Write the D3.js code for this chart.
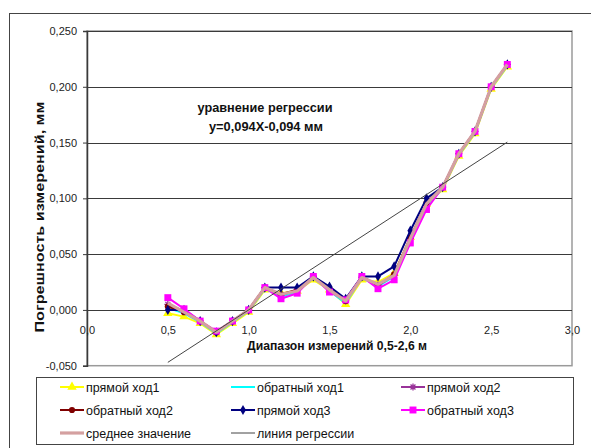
<!DOCTYPE html>
<html>
<head>
<meta charset="utf-8">
<script src="https://cdn.jsdelivr.net/npm/d3@7"></script>
<style>
  html, body { margin: 0; padding: 0; background: #fff; }
  svg { display: block; font-family: "Liberation Sans", Arial, sans-serif; }
</style>
</head>
<body>
<svg id="chart" width="591" height="448"></svg>
<script>
// Measurement points, m
const distances = [0.5, 0.6, 0.7, 0.8, 0.9, 1.0, 1.1, 1.2, 1.3, 1.4, 1.5, 1.6, 1.7, 1.8, 1.9, 2.0, 2.1, 2.2, 2.3, 2.4, 2.5, 2.6];

// Errors per run, mm
const forward1  = [-0.003, -0.006, -0.012, -0.022, -0.012, -0.002, 0.018, 0.015, 0.017, 0.027, 0.018, 0.005, 0.027, 0.025, 0.033, 0.065, 0.095, 0.108, 0.138, 0.158, 0.198, 0.218];
const backward1 = [0.002, -0.003, -0.011, -0.021, -0.011, -0.001, 0.019, 0.012, 0.016, 0.029, 0.017, 0.006, 0.029, 0.021, 0.030, 0.062, 0.093, 0.109, 0.139, 0.159, 0.199, 0.219];
const forward2  = [0.005, -0.001, -0.010, -0.020, -0.010, 0.000, 0.020, 0.013, 0.018, 0.030, 0.019, 0.008, 0.029, 0.022, 0.031, 0.064, 0.095, 0.110, 0.140, 0.160, 0.200, 0.220];
const backward2 = [0.003, -0.002, -0.010, -0.020, -0.010, 0.000, 0.020, 0.014, 0.018, 0.030, 0.019, 0.008, 0.030, 0.022, 0.032, 0.065, 0.096, 0.110, 0.140, 0.160, 0.200, 0.220];
const forward3  = [0.000, 0.000, -0.010, -0.020, -0.010, 0.000, 0.020, 0.020, 0.020, 0.030, 0.021, 0.010, 0.030, 0.030, 0.039, 0.071, 0.100, 0.110, 0.140, 0.160, 0.200, 0.220];
const backward3 = [0.011, 0.001, -0.010, -0.019, -0.010, 0.000, 0.020, 0.010, 0.015, 0.030, 0.016, 0.009, 0.030, 0.019, 0.027, 0.060, 0.090, 0.110, 0.140, 0.160, 0.200, 0.220];
const meanValue = [0.006, -0.002, -0.010, -0.020, -0.010, 0.000, 0.020, 0.014, 0.017, 0.029, 0.018, 0.008, 0.029, 0.023, 0.031, 0.064, 0.095, 0.110, 0.140, 0.160, 0.200, 0.220];

// Regression y = 0.094x - 0.094, drawn over the measured range
const regSlope = 0.094;
const regIntercept = -0.094;
const regRange = [0.5, 2.6];

// Axis ticks
const xTicks = [0, 0.5, 1.0, 1.5, 2.0, 2.5, 3.0];
const yTicks = [-0.05, 0, 0.05, 0.1, 0.15, 0.2, 0.25];

// Series labels
const seriesNames = ["прямой ход1", "обратный ход1", "прямой ход2", "обратный ход2", "прямой ход3", "обратный ход3", "среднее значение", "линия регрессии"];

const svg = d3.select("#chart");
const ru = d3.formatLocale({ decimal: ",", thousands: " ", grouping: [3], currency: ["", " ₽"], minus: "-" });
const fmtY = ru.format(".3f");
const fmtX = ru.format(".1f");

const x = d3.scaleLinear().domain([0, 3]).range([87, 572]);
const y = d3.scaleLinear().domain([-0.05, 0.25]).range([365.7, 31]);

// chart frame
svg.append("rect").attr("x", 9.5).attr("y", 13.5).attr("width", 600).attr("height", 460)
  .attr("fill", "#fff").attr("stroke", "#444").attr("stroke-width", 1);

// plot area border
svg.append("rect").attr("x", x(0)).attr("y", y(0.25)).attr("width", x(3) - x(0)).attr("height", y(-0.05) - y(0.25))
  .attr("fill", "none").attr("stroke", "#9a9a9a").attr("stroke-width", 1.5);

// horizontal gridlines
svg.append("g").selectAll("line").data(yTicks.filter(d => d > -0.05)).join("line")
  .attr("x1", x(0)).attr("x2", x(3))
  .attr("y1", d => Math.round(y(d)) + 0.5).attr("y2", d => Math.round(y(d)) + 0.5)
  .attr("stroke", "#3a3a3a").attr("stroke-width", 1.2);

// y axis
const yAxis = svg.append("g").attr("transform", `translate(${x(0)},0)`)
  .call(d3.axisLeft(y).tickValues(yTicks).tickFormat(fmtY).tickSize(4).tickPadding(6));
yAxis.select(".domain").attr("stroke", "#3a3a3a").attr("stroke-width", 1.5);
yAxis.selectAll(".tick line").attr("stroke", "#3a3a3a");
yAxis.selectAll("text").attr("font-size", 11).attr("fill", "#222").style("font-family", "Liberation Sans, Arial, sans-serif");

// x axis labels, hanging under the zero line
const xAxis = svg.append("g").attr("transform", `translate(0,${y(0)})`)
  .call(d3.axisBottom(x).tickValues(xTicks).tickFormat(fmtX).tickSize(0).tickPadding(16));
xAxis.select(".domain").remove();
xAxis.selectAll("text").attr("font-size", 11).attr("fill", "#222").style("font-family", "Liberation Sans, Arial, sans-serif");

// axis titles
svg.append("text").attr("transform", "translate(44,217) rotate(-90)")
  .attr("text-anchor", "middle").attr("font-size", 13).attr("font-weight", "bold").attr("fill", "#111")
  .attr("textLength", 231).attr("lengthAdjust", "spacingAndGlyphs")
  .text("Погрешность измерений, мм");
svg.append("text").attr("x", 337).attr("y", 350)
  .attr("text-anchor", "middle").attr("font-size", 13).attr("font-weight", "bold").attr("fill", "#111")
  .attr("textLength", 180).attr("lengthAdjust", "spacingAndGlyphs")
  .text("Диапазон измерений 0,5-2,6 м");

// regression equation note
svg.append("text").attr("x", 265).attr("y", 112)
  .attr("text-anchor", "middle").attr("font-size", 13).attr("font-weight", "bold").attr("fill", "#111")
  .attr("textLength", 135).attr("lengthAdjust", "spacingAndGlyphs")
  .text("уравнение регрессии");
svg.append("text").attr("x", 266).attr("y", 131)
  .attr("text-anchor", "middle").attr("font-size", 13).attr("font-weight", "bold").attr("fill", "#111")
  .attr("textLength", 114).attr("lengthAdjust", "spacingAndGlyphs")
  .text("у=0,094Х-0,094 мм");

// marker shapes
const asteriskPath = r => `M${-r},0L${r},0M0,${-r}L0,${r}M${-r * 0.7},${-r * 0.7}L${r * 0.7},${r * 0.7}M${-r * 0.7},${r * 0.7}L${r * 0.7},${-r * 0.7}`;
const markers = {
  triangle: d3.symbol(d3.symbolTriangle, 38)(),
  circle: d3.symbol(d3.symbolCircle, 30)(),
  diamond: d3.symbol(d3.symbolDiamond, 30)(),
  square: d3.symbol(d3.symbolSquare, 48)(),
  asterisk: asteriskPath(3.5)
};

const series = [
  { name: seriesNames[0], values: forward1,  color: "#ffff00", width: 2,   marker: "triangle" },
  { name: seriesNames[1], values: backward1, color: "#00ffff", width: 2,   marker: null },
  { name: seriesNames[2], values: forward2,  color: "#993399", width: 2,   marker: "asterisk" },
  { name: seriesNames[3], values: backward2, color: "#800000", width: 2,   marker: "circle" },
  { name: seriesNames[4], values: forward3,  color: "#000080", width: 2,   marker: "diamond" },
  { name: seriesNames[5], values: backward3, color: "#ff00ff", width: 2,   marker: "square" },
  { name: seriesNames[6], values: meanValue, color: "#d4a0a0", width: 3.2, marker: null }
];

const line = d3.line().x(d => x(d[0])).y(d => y(d[1]));

function drawMarker(g, type, color, cx, cy) {
  if (!type) return;
  const p = g.append("path").attr("d", markers[type]).attr("transform", `translate(${cx},${cy})`);
  if (type === "asterisk") p.attr("fill", "none").attr("stroke", color).attr("stroke-width", 1.3);
  else p.attr("fill", color).attr("stroke", "none");
}

const plot = svg.append("g");
series.forEach(s => {
  const pts = distances.map((d, i) => [d, s.values[i]]);
  const g = plot.append("g");
  g.append("path").attr("d", line(pts)).attr("fill", "none")
    .attr("stroke", s.color).attr("stroke-width", s.width).attr("stroke-linejoin", "round");
  pts.forEach(p => drawMarker(g, s.marker, s.color, x(p[0]), y(p[1])));
});

// regression line
const regPts = regRange.map(v => [v, regSlope * v + regIntercept]);
plot.append("path").attr("d", line(regPts)).attr("fill", "none").attr("stroke", "#444").attr("stroke-width", 1);

// legend
const legend = svg.append("g");
legend.append("rect").attr("x", 36.5).attr("y", 377.5).attr("width", 537).attr("height", 67)
  .attr("fill", "#fff").attr("stroke", "#444").attr("stroke-width", 1);
const legendItems = series.concat([{ name: seriesNames[7], color: "#444", width: 1, marker: null }]);
const colX = [60, 231, 401];
const rowY = [387, 410, 433];
legendItems.forEach((s, i) => {
  const cx = colX[i % 3], cy = rowY[Math.floor(i / 3)];
  const g = legend.append("g");
  g.append("line").attr("x1", cx).attr("x2", cx + 24).attr("y1", cy).attr("y2", cy)
    .attr("stroke", s.color).attr("stroke-width", s.width);
  drawMarker(g, s.marker, s.color, cx + 12, cy);
  g.append("text").attr("x", cx + 26).attr("y", cy + 4.5).attr("font-size", 12.5).attr("fill", "#111")
    .text(s.name);
});
</script>
</body>
</html>
